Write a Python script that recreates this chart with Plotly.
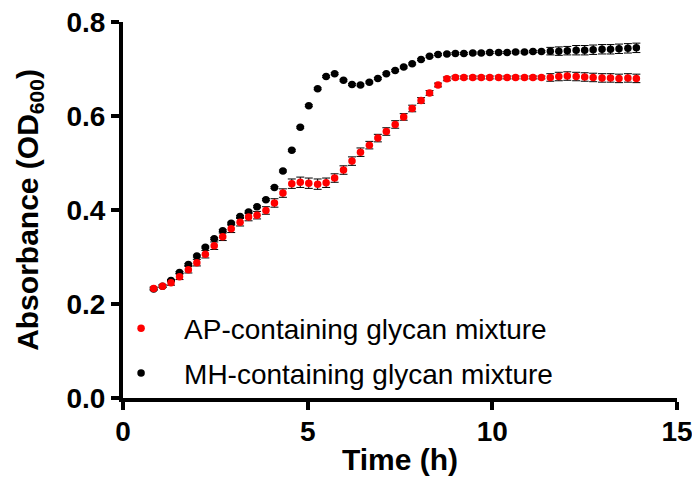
import plotly.graph_objects as go

# sampling times (h), one reading every ~14 min
time_h = [0.83, 1.07, 1.30, 1.53, 1.77, 2.00, 2.23, 2.47, 2.70, 2.93,
          3.17, 3.40, 3.63, 3.87, 4.10, 4.33, 4.57, 4.80, 5.03, 5.27,
          5.50, 5.73, 5.97, 6.20, 6.43, 6.67, 6.90, 7.13, 7.37, 7.60,
          7.83, 8.07, 8.30, 8.53, 8.77, 9.00, 9.23, 9.47, 9.70, 9.93,
          10.17, 10.40, 10.63, 10.87, 11.10, 11.33, 11.57, 11.80, 12.03, 12.27,
          12.50, 12.73, 12.97, 13.20, 13.43, 13.67, 13.90]

# AP-containing glycan mixture (red)
ap_od = [0.233, 0.238, 0.245, 0.258, 0.273, 0.288, 0.306, 0.324, 0.343, 0.360,
         0.374, 0.385, 0.389, 0.399, 0.415, 0.436, 0.456, 0.459, 0.457, 0.455,
         0.458, 0.468, 0.485, 0.504, 0.523, 0.538, 0.553, 0.567, 0.582, 0.598,
         0.616, 0.633, 0.649, 0.666, 0.679, 0.682, 0.682, 0.682, 0.682, 0.682,
         0.682, 0.682, 0.682, 0.682, 0.682, 0.682, 0.682, 0.684, 0.685, 0.684,
         0.683, 0.682, 0.681, 0.681, 0.680, 0.681, 0.680]
ap_err = [0.003, 0.003, 0.005, 0.006, 0.007, 0.007, 0.008, 0.008, 0.008, 0.008,
          0.008, 0.008, 0.008, 0.008, 0.009, 0.009, 0.010, 0.011, 0.011, 0.011,
          0.010, 0.009, 0.009, 0.009, 0.009, 0.008, 0.008, 0.008, 0.008, 0.007,
          0.007, 0.006, 0.005, 0.004, 0.004, 0.003, 0.003, 0.003, 0.003, 0.003,
          0.003, 0.003, 0.003, 0.003, 0.003, 0.003, 0.008, 0.009, 0.009, 0.009,
          0.009, 0.009, 0.009, 0.009, 0.009, 0.009, 0.009]

# MH-containing glycan mixture (black)
mh_od = [0.232, 0.238, 0.250, 0.267, 0.284, 0.302, 0.321, 0.339, 0.356, 0.372,
         0.386, 0.396, 0.407, 0.422, 0.448, 0.483, 0.527, 0.576, 0.622, 0.658,
         0.684, 0.690, 0.676, 0.667, 0.666, 0.672, 0.680, 0.690, 0.697, 0.704,
         0.711, 0.720, 0.727, 0.731, 0.732, 0.733, 0.733, 0.734, 0.734, 0.735,
         0.735, 0.735, 0.736, 0.736, 0.737, 0.737, 0.738, 0.738, 0.739, 0.740,
         0.740, 0.741, 0.742, 0.742, 0.743, 0.744, 0.745]
mh_err = [0.002] * 46 + [0.008, 0.009, 0.009, 0.010, 0.010, 0.010,
                         0.010, 0.010, 0.010, 0.010, 0.010]

x_ticks = [0, 5, 10, 15]
y_ticks = [0.0, 0.2, 0.4, 0.6, 0.8]

font_family = "Arial, Liberation Sans, Helvetica, sans-serif"

fig = go.Figure()

# black drawn first so the red points sit on top
fig.add_trace(go.Scatter(
    x=time_h, y=mh_od,
    name="MH-containing glycan mixture",
    mode="markers",
    marker=dict(color="black", size=7.5),
    error_y=dict(type="data", array=mh_err, color="black", thickness=1, width=4),
    legend="legend2", showlegend=True,
))
fig.add_trace(go.Scatter(
    x=time_h, y=ap_od,
    name="AP-containing glycan mixture",
    mode="markers",
    marker=dict(color="#ff0000", size=7.5),
    error_y=dict(type="data", array=ap_err, color="black", thickness=1, width=4),
    legend="legend", showlegend=True,
))

fig.update_xaxes(
    range=[0, 15],
    tickvals=x_ticks,
    showline=True, linecolor="black", linewidth=4,
    ticks="outside", ticklen=8, tickwidth=4, tickcolor="black",
    ticklabelstandoff=-3, ticklabeloverflow="allow",
    showgrid=False, zeroline=False, automargin=False,
    tickfont=dict(family=font_family, size=28, color="black", weight="bold"),
    title=dict(text="Time (h)", standoff=4,
               font=dict(family=font_family, size=30, color="black", weight="bold")),
)
fig.update_yaxes(
    range=[0, 0.8],
    tickvals=y_ticks,
    tickformat=".1f",
    showline=True, linecolor="black", linewidth=4,
    ticks="outside", ticklen=8, tickwidth=4, tickcolor="black",
    ticklabeloverflow="allow",
    showgrid=False, zeroline=False, automargin=False,
    tickfont=dict(family=font_family, size=28, color="black", weight="bold"),
    title=dict(text="Absorbance (OD<sub>600</sub>)", standoff=20,
               font=dict(family=font_family, size=30, color="black", weight="bold")),
)

legend_font = dict(family=font_family, size=28, color="black")
fig.update_layout(
    width=700, height=486,
    margin=dict(l=115, r=31, t=14, b=96),
    plot_bgcolor="white",
    paper_bgcolor="white",
    showlegend=True,
    legend=dict(
        x=-0.045, y=0.185, xanchor="left", yanchor="middle",
        bgcolor="rgba(0,0,0,0)", itemwidth=76, font=legend_font,
    ),
    legend2=dict(
        x=-0.045, y=0.066, xanchor="left", yanchor="middle",
        bgcolor="rgba(0,0,0,0)", itemwidth=76, font=legend_font,
    ),
)

fig.write_html("out.html")
